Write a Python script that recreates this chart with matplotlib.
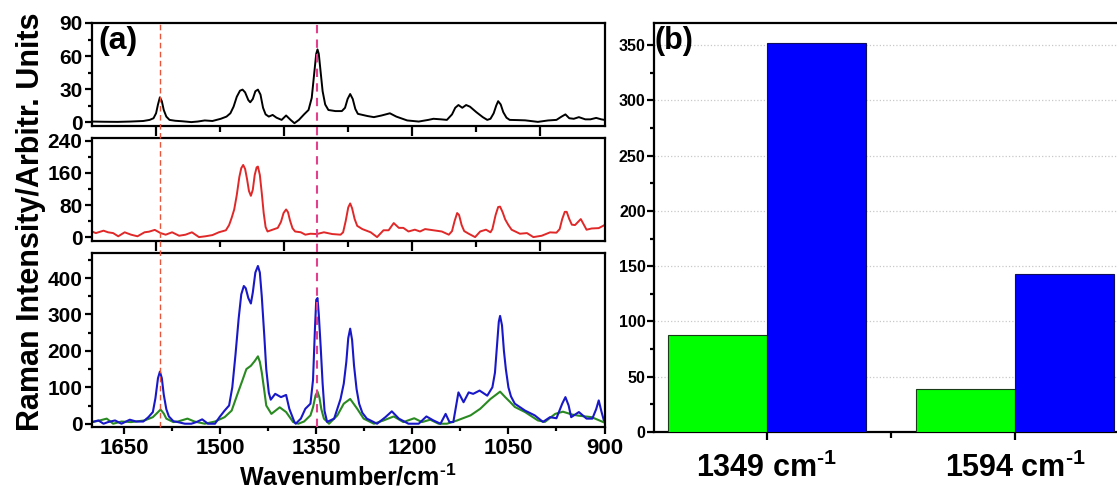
import matplotlib
matplotlib.use('Agg')
import matplotlib.pyplot as plt
from matplotlib.ticker import MultipleLocator, FixedLocator

plt.rcParams['font.family'] = ['Liberation Sans', 'DejaVu Sans']
plt.rcParams['font.weight'] = 'bold'
plt.rcParams['mathtext.fontset'] = 'custom'
plt.rcParams['mathtext.rm'] = 'Liberation Sans:bold'
plt.rcParams['mathtext.bf'] = 'Liberation Sans:bold'
plt.rcParams['mathtext.it'] = 'Liberation Sans:bold:italic'
NARROW = ['Liberation Sans Narrow', 'Liberation Sans', 'DejaVu Sans']

# ---------------- data: panel (a) ----------------
black_wn = [1700, 1680, 1660, 1640, 1620, 1610, 1604, 1600, 1597, 1594, 1591, 1588, 1584, 1579,
            1570, 1560, 1545, 1535, 1524, 1512, 1499, 1490, 1484, 1479, 1474, 1469, 1465, 1461,
            1456, 1453, 1449, 1445, 1441, 1437, 1433, 1429, 1424, 1418, 1412, 1404, 1397, 1390,
            1384, 1377, 1369, 1362, 1357, 1353, 1350, 1348, 1346, 1343, 1340, 1336, 1331, 1320,
            1310, 1305, 1301, 1297, 1293, 1289, 1285, 1270, 1260, 1248, 1235, 1225, 1208, 1190,
            1175, 1167, 1155, 1146, 1138, 1133, 1128, 1122, 1116, 1110, 1100, 1090, 1083, 1078,
            1073, 1069, 1066, 1062, 1058, 1053, 1048, 1035, 1024, 1004, 988, 975, 967, 961,
            955, 948, 940, 930, 922, 913, 905, 900]
black_val = [0.5, 0.3, 0.2, 0.5, 1, 2, 3.5, 8, 16, 22.5, 19, 11, 5, 2,
             1.2, 0.8, 0, 0.5, 1.5, 1, 3, 5, 8, 14, 23, 28.5, 29.5, 27,
             20, 18, 21, 28, 29.5, 25, 13, 7, 5, 6.5, 4, 2, 6, 2,
             -1, 2, 7, 11, 22, 45, 62, 66, 62, 45, 28, 16, 11, 10,
             10, 13, 21, 25.5, 21, 12, 7.5, 5.5, 4.5, 6, 8, 5, 1.5, 0.5,
             2, 3, 2.5, 2, 7, 13, 15.5, 13, 15.5, 14, 9, 4.5, 2, 3,
             8, 15, 19, 16, 9, 4, 2, 1.8, 1.6, 0.2, 1.5, 2, 5, 7,
             3.5, 3, 4.5, 2.5, 2.5, 3.8, 2.5, 2]

red_wn = [1700, 1694, 1688, 1682, 1675, 1667, 1659, 1649, 1639, 1629, 1618, 1611, 1602, 1593,
          1585, 1575, 1564, 1554, 1544, 1533, 1523, 1512, 1502, 1491, 1486, 1482, 1478, 1474,
          1470, 1467, 1464, 1461, 1458, 1455, 1452, 1449, 1446, 1443, 1441, 1438, 1435, 1432,
          1429, 1426, 1418, 1410, 1405, 1401, 1397, 1394, 1391, 1387, 1383, 1374, 1367, 1359,
          1349, 1338, 1325, 1312, 1308, 1304, 1300, 1297, 1294, 1290, 1286, 1278, 1265, 1255,
          1245, 1237, 1229, 1221, 1214, 1206, 1196, 1188, 1180, 1167, 1154, 1143, 1138, 1134,
          1130, 1127, 1123, 1119, 1112, 1102, 1094, 1085, 1078, 1075, 1070, 1066, 1063, 1059,
          1055, 1050, 1045, 1032, 1021, 1011, 998, 985, 975, 970, 966, 962, 959, 955, 951,
          946, 937, 928, 920, 909, 900]
red_val = [14, 10, 13, 16, 12, 10, 2, 12, 6, 2, 12, 13.5, 18, 10,
           6, 12, 3.4, 6, 12, 0, 2, 5, 12, 17, 30, 48, 69, 105,
           150, 172, 180, 170, 145, 115, 103, 118, 155, 174, 176, 155, 110, 60,
           25, 14, 18.5, 23, 38, 60, 69, 62, 42, 22, 14, 12, 6, 8.4,
           7.6, 12, 7.6, 6, 12, 40, 74, 84, 72, 45, 28, 20, 12, 0,
           17, 17, 35, 23, 23, 14, 18.5, 14, 20, 17, 14, 6, 15, 40,
           60, 55, 30, 15, 8.4, 0, 14, 18.5, 12, 20, 55, 75, 76, 62,
           44, 30, 18.4, 8.4, 10, 0, 3.4, 11.8, 11, 20, 45, 63, 63, 45, 31,
           30, 45, 18.4, 21.5, 22.4, 30]

blue_wn = [1700, 1690, 1682, 1675, 1664, 1654, 1641, 1631, 1620, 1612, 1605, 1601, 1597, 1594,
           1591, 1588, 1584, 1580, 1573, 1566, 1555, 1545, 1537, 1528, 1519, 1508, 1501, 1493,
           1486, 1481, 1476, 1471, 1467, 1463, 1460, 1456, 1452, 1449, 1445, 1441, 1438, 1435,
           1431, 1428, 1424, 1421, 1414, 1405, 1397, 1392, 1384, 1382, 1374, 1367, 1359, 1355,
           1352, 1350, 1348, 1346, 1343, 1340, 1337, 1333, 1322, 1312, 1307, 1303, 1300, 1297,
           1294, 1291, 1287, 1283, 1278, 1271, 1255, 1242, 1232, 1221, 1206, 1190, 1178, 1167,
           1156, 1148, 1142, 1136, 1128, 1120, 1112, 1105, 1095, 1083, 1075, 1071, 1068, 1065,
           1063, 1060, 1057, 1054, 1050, 1046, 1040, 1024, 1009, 996, 985, 975, 966, 961, 956,
           952, 940, 928, 919, 913, 909, 905, 901]
blue_val = [4.5, 9, 0, 4.5, 9, 0, 11, 6, 6, 18, 32, 70, 125, 143,
            125, 80, 40, 20, 7, 4.5, 0, 0, 4.5, 12, 0, 0, 18, 36,
            50, 100, 190, 290, 355, 378, 372, 345, 330, 360, 415, 433, 415, 350,
            240, 150, 85, 66, 82, 73, 79, 41, 4.5, 0, 14, 41, 55, 120,
            260, 340, 345, 300, 210, 110, 35, 5, 14, 68, 110, 170, 235, 261,
            230, 160, 95, 55, 30, 14, 0, 18, 34, 14, 0, 0, 20, 9,
            0, 27, 4.5, 4.5, 86, 59, 86, 82, 91, 77, 100, 140, 210, 280,
            296, 270, 200, 150, 100, 75, 55, 36, 23, 5, 18, 15, 55, 73, 50,
            18, 32, 14, 14, 40, 64, 35, 9]

green_wn = [1700, 1690, 1677, 1667, 1654, 1639, 1618, 1605, 1598, 1593, 1588, 1584, 1573, 1566,
            1551, 1540, 1524, 1508, 1493, 1482, 1472, 1465, 1459, 1452, 1446, 1441, 1438, 1435,
            1431, 1428, 1420, 1407, 1397, 1386, 1378, 1369, 1359, 1355, 1351, 1348, 1345, 1342,
            1338, 1330, 1317, 1307, 1297, 1286, 1276, 1260, 1245, 1229, 1214, 1197, 1185, 1172,
            1159, 1146, 1130, 1109, 1094, 1078, 1063, 1055, 1047, 1040, 1024, 1004, 993, 977,
            965, 950, 940, 920, 900]
green_val = [4.5, 8, 14, 0, 6, 4.5, 9, 18, 30, 39, 28, 14, 4.5, 6,
             14, 6, 0, 6, 18, 36, 86, 120, 150, 159, 172, 185, 170, 141,
             90, 50, 27, 45, 32, 4.5, 0, 6, 23, 45, 78, 88, 72, 40,
             14, 0, 23, 55, 68, 41, 14, 0, 9, 20, 4.5, 15, 4.5, 11,
             0, 0, 9, 23, 41, 68, 88, 73, 59, 46, 32, 9, 5, 27,
             33, 25, 22, 18, 3]

marker_lines = [1594, 1349]

# ---------------- data: panel (b) ----------------
categories = ['1349 cm$^{\\text{-}1}$', '1594 cm$^{\\text{-}1}$']
green_bars = [88, 39]
blue_bars = [352, 143]

# ---------------- layout ----------------
W, H = 1117, 494
fig = plt.figure(figsize=(W / 100, H / 100), dpi=100)


def rect(l, t, r, b):
    return [l / W, 1 - b / H, (r - l) / W, (b - t) / H]


LX0, LX1 = 92, 604.5
ax1 = fig.add_axes(rect(LX0, 23, LX1, 126.5))
ax2 = fig.add_axes(rect(LX0, 138.5, LX1, 240.7))
ax3 = fig.add_axes(rect(LX0, 252.5, LX1, 427))
axb = fig.add_axes(rect(654, 23, 1126.6, 432))

SP = 1.6
for ax in (ax1, ax2, ax3, axb):
    for s in ax.spines.values():
        s.set_linewidth(SP)

kw = dict(solid_joinstyle='round', solid_capstyle='round')
ax1.plot(black_wn, black_val, color='black', lw=1.4, **kw)
ax2.plot(red_wn, red_val, color='#e02828', lw=1.4, **kw)
ax3.plot(green_wn, green_val, color='#2a8a22', lw=1.5, **kw)
ax3.plot(blue_wn, blue_val, color='#1818c8', lw=1.5, **kw)

ylims = [(-4, 90), (-9, 246), (-9, 470)]
ymaj = [30, 80, 100]
ymin_ = [15, 40, 50]
for ax, yl, mj, mn in zip((ax1, ax2, ax3), ylims, ymaj, ymin_):
    ax.set_xlim(1700, 900)
    ax.set_ylim(*yl)
    ax.yaxis.set_major_locator(MultipleLocator(mj))
    ax.yaxis.set_minor_locator(MultipleLocator(mn))
    ax.tick_params(axis='y', which='major', direction='out', length=5, width=SP,
                   labelsize=15, pad=2)
    ax.tick_params(axis='y', which='minor', direction='out', length=3, width=SP)
    for lbl in ax.get_yticklabels():
        lbl.set_fontweight('bold')

for ax in (ax1, ax2):
    ax.xaxis.set_major_locator(FixedLocator([1600, 1400, 1200, 1000]))
    ax.xaxis.set_minor_locator(FixedLocator([1500, 1300, 1100]))
    ax.tick_params(axis='x', which='major', direction='out', length=7.5, width=SP,
                   labelbottom=False)
    ax.tick_params(axis='x', which='minor', direction='out', length=4, width=SP)

ax3.xaxis.set_major_locator(MultipleLocator(150))
ax3.xaxis.set_minor_locator(MultipleLocator(75))
ax3.tick_params(axis='x', which='major', direction='out', length=5, width=SP, pad=3)
ax3.tick_params(axis='x', which='minor', direction='out', length=3, width=SP)
for lbl in ax3.get_xticklabels():
    lbl.set_family(NARROW)
    lbl.set_fontsize(16)
    lbl.set_fontweight('bold')

# vertical dashed marker lines spanning the three stacked panels
span = (427 - 23) / (427 - 252.5)
ax3.axvline(marker_lines[0], ymin=0, ymax=span, clip_on=False, color='#e8553a',
            lw=1.0, dashes=(4, 2.5), zorder=5)
ax3.axvline(marker_lines[1], ymin=0, ymax=span, clip_on=False, color='#e2408a',
            lw=1.5, dashes=(4, 3), zorder=5)

# ---------------- panel (b) ----------------
pos = list(range(len(categories)))
bw = 0.4
axb.bar([p - bw / 2 for p in pos], green_bars, width=bw, color='#00ff00',
        edgecolor='#1a3a1a', lw=0.8, zorder=3)
axb.bar([p + bw / 2 for p in pos], blue_bars, width=bw, color='#0000ff',
        edgecolor='#10105a', lw=0.8, zorder=3)
axb.set_xlim(-0.456, 1.45)
axb.set_ylim(0, 370)
axb.yaxis.set_major_locator(MultipleLocator(50))
axb.yaxis.set_minor_locator(MultipleLocator(25))
axb.yaxis.grid(True, which='major', linestyle=':', color='#c8c8c8', lw=0.9)
axb.set_axisbelow(True)
axb.tick_params(axis='y', which='major', direction='out', length=5, width=SP,
                labelsize=11.5, pad=1)
axb.tick_params(axis='y', which='minor', direction='out', length=3, width=SP)
axb.set_xticks(pos)
axb.set_xticks([0.5], minor=True)
axb.set_xticklabels(categories)
axb.tick_params(axis='x', which='major', direction='out', length=6, width=SP, pad=9)
axb.tick_params(axis='x', which='minor', direction='out', length=4, width=SP)
for lbl in axb.get_xticklabels():
    lbl.set_family(NARROW)
    lbl.set_fontsize(22)
    lbl.set_fontweight('bold')
for lbl in axb.get_yticklabels():
    lbl.set_fontweight('bold')

# ---------------- texts ----------------
fig.text(31 / W, 1 - 222 / H, 'Raman Intensity/Arbitr. Units', rotation=90,
         fontsize=22, fontweight='bold', ha='center', va='center')
fig.text(348 / W, 1 - 477 / H, 'Wavenumber/cm$^{\\text{-}1}$', fontsize=18,
         fontweight='bold', ha='center', va='center')
fig.text(98 / W, 1 - 26 / H, '(a)', fontsize=23, fontweight='bold', ha='left', va='top')
fig.text(655 / W, 1 - 26 / H, '(b)', fontsize=22, fontweight='bold', ha='left', va='top')

fig.savefig('out.png', dpi=100)
